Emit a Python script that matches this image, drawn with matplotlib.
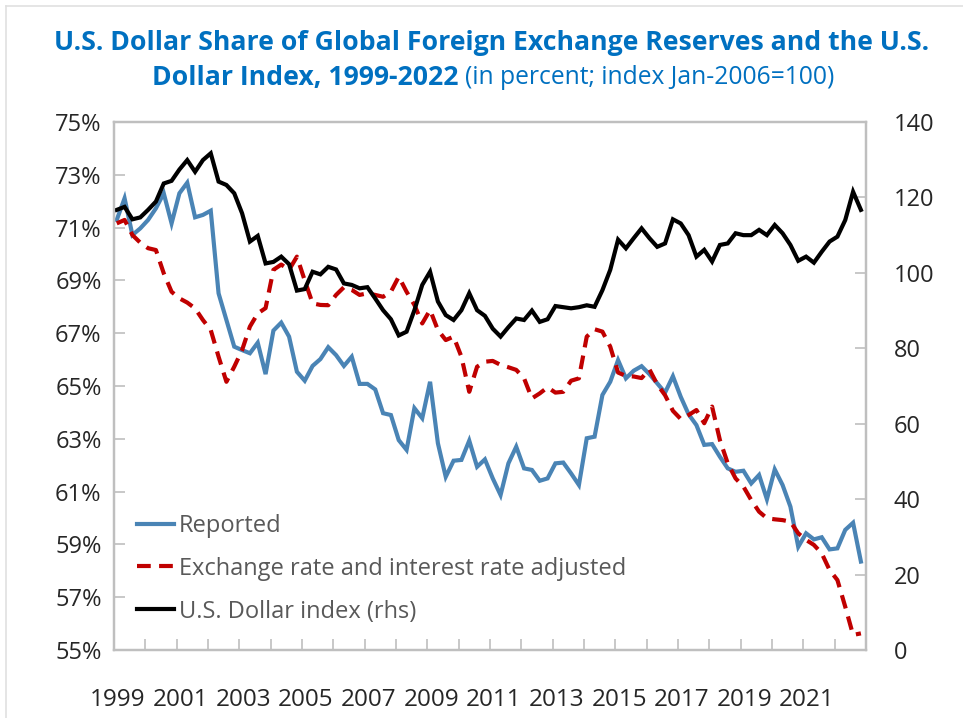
import numpy as np
import matplotlib
matplotlib.use("Agg")
import matplotlib.pyplot as plt

plt.rcParams['font.family'] = ['Open Sans', 'DejaVu Sans']

# quarterly data, 1999Q1 - 2022Q4
# U.S. dollar share of reserves, reported (percent)
reported = [71.29, 72.11, 70.72, 70.97, 71.29, 71.73, 72.30, 71.16, 72.30, 72.70,
            71.39, 71.48, 71.64, 68.51, 67.50, 66.49, 66.36, 66.24, 66.64, 65.45,
            67.10, 67.40, 66.87, 65.54, 65.20, 65.76, 66.02, 66.47, 66.17, 65.76,
            66.11, 65.08, 65.08, 64.87, 63.97, 63.90, 62.95, 62.58, 64.16, 63.78,
            65.16, 62.83, 61.56, 62.17, 62.20, 62.93, 61.94, 62.22, 61.50, 60.87,
            62.07, 62.70, 61.88, 61.82, 61.41, 61.50, 62.07, 62.10, 61.69, 61.25,
            63.02, 63.08, 64.66, 65.16, 65.98, 65.29, 65.58, 65.75, 65.45, 65.10,
            64.75, 65.37, 64.59, 63.93, 63.52, 62.77, 62.80, 62.32, 61.88, 61.75,
            61.79, 61.31, 61.63, 60.71, 61.84, 61.25, 60.43, 58.91, 59.42, 59.19,
            59.27, 58.81, 58.85, 59.55, 59.82, 58.35]

# exchange rate and interest rate adjusted share (percent)
adjusted = [71.16, 71.29, 70.72, 70.43, 70.22, 70.15, 69.27, 68.57, 68.32, 68.16,
            67.94, 67.50, 67.12, 66.11, 65.16, 65.73, 66.36, 67.25, 67.75, 67.95,
            69.40, 69.60, 69.40, 69.90, 69.00, 68.13, 68.07, 68.06, 68.45, 68.74,
            68.64, 68.45, 68.51, 68.45, 68.38, 68.57, 69.14, 68.57, 68.07, 67.37,
            67.88, 67.12, 66.74, 66.87, 66.11, 64.78, 65.73, 65.92, 65.95, 65.80,
            65.71, 65.61, 65.29, 64.53, 64.72, 64.95, 64.75, 64.78, 65.20, 65.29,
            66.87, 67.15, 67.06, 66.49, 65.51, 65.38, 65.36, 65.30, 65.63, 65.06,
            64.65, 64.06, 63.75, 63.90, 64.09, 63.59, 64.22, 62.95, 62.07, 61.50,
            61.19, 60.68, 60.24, 59.99, 59.95, 59.92, 59.86, 59.42, 59.17, 58.98,
            58.66, 58.03, 57.65, 56.64, 55.57, 55.63]

# U.S. dollar index, Jan-2006 = 100 (rhs)
dollar_index = [116.7, 117.5, 114.2, 114.7, 116.7, 118.9, 123.7, 124.4, 127.4, 129.9,
                126.8, 129.9, 131.7, 124.2, 123.3, 121.1, 115.8, 108.3, 109.8, 102.5,
                102.9, 104.3, 102.3, 95.3, 95.7, 100.3, 99.6, 101.6, 100.9, 97.2,
                96.8, 95.9, 96.2, 93.2, 90.1, 87.7, 83.4, 84.4, 90.1, 96.8,
                100.3, 92.4, 88.8, 87.5, 90.1, 94.6, 90.1, 88.6, 85.2, 83.1,
                85.6, 87.9, 87.5, 90.0, 87.0, 87.7, 91.2, 90.9, 90.6, 90.9,
                91.4, 91.0, 95.4, 100.8, 108.8, 106.5, 109.2, 111.8, 109.2, 106.9,
                107.8, 114.2, 113.1, 110.0, 104.3, 106.1, 103.0, 107.4, 107.8, 110.5,
                110.0, 110.0, 111.4, 110.0, 112.7, 110.5, 107.4, 103.2, 104.3, 102.7,
                105.6, 108.3, 109.6, 114.0, 121.5, 116.7]

year_labels = ['1999', '2001', '2003', '2005', '2007', '2009', '2011',
               '2013', '2015', '2017', '2019', '2021']

blue = '#4a84b5'
red = '#c00000'
title_blue = '#0070c0'
grey = '#bfbfbf'

x = 1999 + (np.arange(len(reported)) + 0.35) / 4

fig = plt.figure(figsize=(9.63, 7.18), dpi=100)
ax = fig.add_axes([114 / 963, 68 / 718, 752 / 963, 528 / 718])
ax2 = ax.twinx()

l1, = ax.plot(x, reported, color=blue, lw=3, solid_joinstyle='miter')
l2, = ax.plot(x, adjusted, color=red, lw=3, linestyle=(0, (3.3, 2)))
l3, = ax2.plot(x, dollar_index, color='black', lw=3, solid_joinstyle='miter')

ax.set_xlim(1999, 2023)
ax.set_ylim(55, 75)
ax2.set_ylim(0, 140)

ax.set_yticks(np.arange(55, 76, 2))
ax.set_yticklabels([f'{v}%' for v in range(55, 76, 2)])
ax2.set_yticks(np.arange(0, 141, 20))

# year tick marks, labels on odd years
ax.set_xticks(np.arange(1999, 2024), minor=True)
ax.set_xticks([int(y) + 0.12 for y in year_labels])
ax.set_xticklabels(year_labels)
ax.tick_params(axis='x', which='major', length=0, pad=27, labelsize=17.5, labelcolor='#262626')
ax.tick_params(axis='x', which='minor', direction='in', length=8, width=1.2, color=grey)
ax.tick_params(axis='y', direction='in', length=8, width=1.2, color=grey,
               pad=9, labelsize=17, labelcolor='#262626')
ax2.tick_params(axis='y', direction='in', length=8, width=1.2, color=grey,
                pad=20, labelsize=17, labelcolor='#262626')

for a in (ax, ax2):
    for s in a.spines.values():
        s.set_color(grey)
        s.set_linewidth(1.6)

ax.legend([l1, l2, l3],
          ['Reported', 'Exchange rate and interest rate adjusted', 'U.S. Dollar index (rhs)'],
          loc='upper left', bbox_to_anchor=(0.03, 0.258), frameon=False,
          fontsize=17, labelcolor='#595959', handlelength=1.6, handletextpad=0.2,
          labelspacing=0.8, borderpad=0, borderaxespad=0)

# title
fig.text(492 / 963, 1 - 43 / 718,
         'U.S. Dollar Share of Global Foreign Exchange Reserves and the U.S.',
         ha='center', va='center', fontsize=19.2, fontweight='bold', color=title_blue)
t_bold = fig.text(0, 1 - 78 / 718, 'Dollar Index, 1999-2022 ', ha='left', va='center',
                  fontsize=19.2, fontweight='bold', color=title_blue)
t_reg = fig.text(0, 1 - 78 / 718, '(in percent; index Jan-2006=100)', ha='left', va='center',
                 fontsize=17.7, color=title_blue)
renderer = fig.canvas.get_renderer()
wb = t_bold.get_window_extent(renderer).width
wr = t_reg.get_window_extent(renderer).width
start = 493 - (wb + wr) / 2
t_bold.set_x(start / 963)
t_reg.set_x((start + wb) / 963)

# faint chart-area border
fig.add_artist(plt.Line2D([6 / 963, 1], [1 - 6 / 718, 1 - 6 / 718], color='#e0e0e0', lw=1.2))
fig.add_artist(plt.Line2D([6 / 963, 6 / 963], [0, 1 - 6 / 718], color='#e0e0e0', lw=1.2))

fig.savefig('out.png', dpi=100)
